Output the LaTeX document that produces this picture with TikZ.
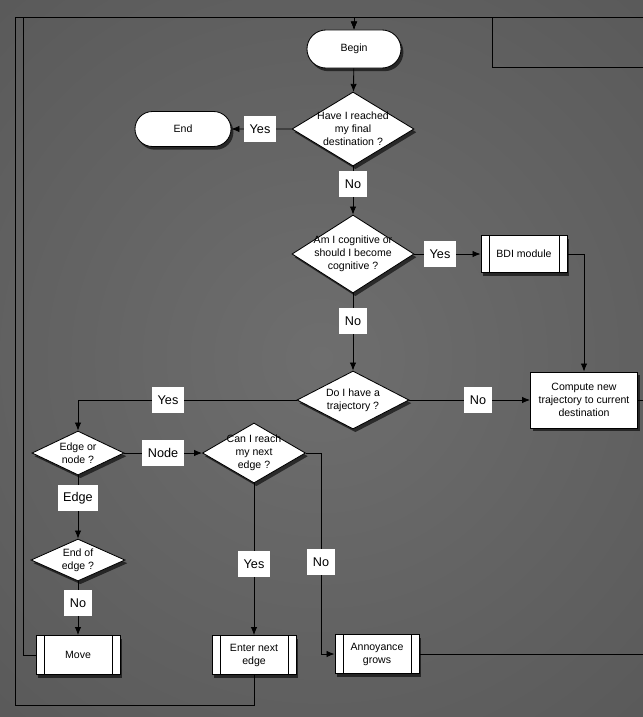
\documentclass[tikz,border=0pt]{standalone}
\usepackage{fontspec}
\setmainfont{Liberation Sans}
\usetikzlibrary{shapes.geometric,shapes.misc,arrows.meta,shadows}

\definecolor{bginner}{RGB}{110,110,110}
\definecolor{bgouter}{RGB}{68,68,68}

\begin{document}
\begin{tikzpicture}[
  x=0.025cm, y=-0.025cm,
  every node/.style={font=\fontsize{7.5}{9.2}\selectfont, align=center},
  box/.style={draw=black, fill=white, line width=0.6pt,
    drop shadow={shadow xshift=0.6mm, shadow yshift=-0.8mm, fill=black, opacity=0.6}},
  terminal/.style={box, rounded rectangle, minimum width=2.35cm, minimum height=0.95cm, inner sep=0pt},
  decision/.style={box, diamond, aspect=1.7, inner sep=-3pt},
  process/.style={box, rectangle, minimum width=2.1cm, minimum height=0.975cm, inner sep=1pt},
  subproc/.style={process, path picture={
      \draw ([xshift=0.2cm]path picture bounding box.north west) -- ([xshift=0.2cm]path picture bounding box.south west);
      \draw ([xshift=-0.2cm]path picture bounding box.north east) -- ([xshift=-0.2cm]path picture bounding box.south east);}},
  answer/.style={fill=white, font=\fontsize{9}{10}\selectfont, inner xsep=4pt, minimum height=0.65cm},
  flow/.style={draw, line width=0.6pt, -{Latex[length=2mm,width=1.6mm]}},
  link/.style={draw, line width=0.6pt}
]
% background
\begin{scope}
  \clip (0,0) rectangle (643,717);
  \shade[inner color=bginner, outer color=bgouter] (321,358) circle[radius=1000];
\end{scope}
\useasboundingbox (0,0) rectangle (643,717);

% nodes
\node[terminal] (begin) at (354,49) {Begin};
\node[decision, minimum width=3.05cm, minimum height=1.85cm] (reached) at (353,129) {Have I reached\\my final\\destination ?};
\node[terminal, minimum width=2.4cm, minimum height=0.875cm] (stop) at (183,129) {End};
\node[decision, minimum width=3.05cm, minimum height=1.95cm] (cognitive) at (353,254) {Am I cognitive or\\should I become\\cognitive ?};
\node[subproc, minimum width=2.15cm, minimum height=0.925cm] (bdi) at (524,254) {BDI module};
\node[decision, minimum width=2.8cm, minimum height=1.45cm] (trajq) at (353,400) {Do I have a\\trajectory ?};
\node[process, minimum width=2.675cm, minimum height=1.4cm] (compute) at (584,400) {Compute new\\trajectory to current\\destination};
\node[decision, minimum width=2.3cm, minimum height=1.1cm] (edgenode) at (78,453) {Edge or\\node ?};
\node[decision, minimum width=2.575cm, minimum height=1.5cm] (reach) at (254,453) {Can I reach\\my next\\edge ?};
\node[decision, minimum width=2.35cm, minimum height=1.05cm] (endedge) at (78,560) {End of\\edge ?};
\node[subproc] (move) at (78,655) {Move};
\node[subproc] (enter) at (254,655) {Enter next\\edge};
\node[subproc] (annoy) at (377,654) {Annoyance\\grows};

% free ends at the right border
\coordinate (toprow) at (354,17);
\coordinate (exittop) at (643,17);
\coordinate (exitbend) at (643,67);
\coordinate (exitcomp) at (643,400);
\coordinate (exitannoy) at (643,654);

% connectors
\draw[flow] (begin) -- (reached);
\draw[flow] (reached) -- (stop);
\draw[flow] (reached) -- (cognitive);
\draw[flow] (cognitive) -- (bdi);
\draw[flow] (bdi.east) -| (compute.north);
\draw[flow] (cognitive) -- (trajq);
\draw[flow] (trajq) -- (compute);
\draw[flow] (trajq.west) -| (edgenode.north);
\draw[flow] (edgenode) -- (reach);
\draw[flow] (edgenode) -- (endedge);
\draw[flow] (endedge) -- (move);
\draw[flow] (reach) -- (enter);
\draw[flow] (reach.east) -- ++(15,0) |- (annoy.west);
\draw[link] (compute.east) -- (exitcomp);
\draw[link] (annoy.east) -- (exitannoy);

% loops back to the start
\draw[flow] (move.west) -| (23,17) -| (begin.north);
\draw[flow] (enter.south) |- (15,705) |- (toprow) -- (begin.north);
\draw[flow] (exitbend) -| (492,17) -| (begin.north);
\draw[link] (exittop) -- (492,17);

% answers
\node[answer] (yes1) at (260,129) {Yes};
\node[answer] (no1) at (353,184) {No};
\node[answer] (yes2) at (440,254) {Yes};
\node[answer] (no2) at (353,321) {No};
\node[answer] (no3) at (478,400) {No};
\node[answer] (yes3) at (168,400) {Yes};
\node[answer] (node1) at (163,453) {Node};
\node[answer] (edge1) at (78,498) {Edge};
\node[answer] (no4) at (78,603) {No};
\node[answer] (yes4) at (254,564) {Yes};
\node[answer] (no5) at (321,562) {No};
\end{tikzpicture}
\end{document}
